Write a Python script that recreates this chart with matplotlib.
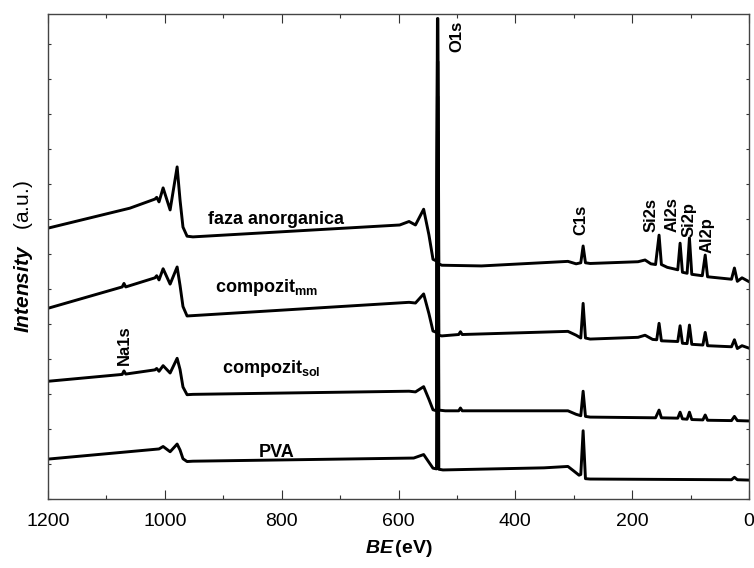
import matplotlib.pyplot as plt
from matplotlib.ticker import MultipleLocator, NullFormatter

plt.rcParams['font.family'] = ['Liberation Sans', 'DejaVu Sans']
plt.rcParams['mathtext.fontset'] = 'custom'
plt.rcParams['mathtext.rm'] = 'Liberation Sans'
plt.rcParams['mathtext.bf'] = 'Liberation Sans:bold'
plt.rcParams['mathtext.bfit'] = 'Liberation Sans:italic:bold'
plt.rcParams['mathtext.it'] = 'Liberation Sans:italic'

# spectra: binding energy (eV) and stacked intensity (a.u.)
be_pva = [1200, 1010, 1003, 991, 979, 974, 969, 962, 952, 574, 557, 548, 541, 535, 533.4, 532.6, 531, 524, 351, 310, 300, 291, 288,
          284, 280, 272, 30, 25, 20, 0]
int_pva = [1.14, 1.43, 1.50, 1.35, 1.57, 1.40, 1.15, 1.07, 1.08, 1.17, 1.27, 1.05, 0.88, 0.86, 10.5, 10.5, 0.85, 0.83, 0.89, 0.93, 0.80, 0.68, 0.70,
           1.95, 0.58, 0.57, 0.55, 0.62, 0.55, 0.54]

be_sol = [1196, 1073, 1070, 1067, 1017, 1014, 1010, 1003, 991, 979, 974, 969, 962, 952, 582, 571, 557, 548, 541, 535, 533.4, 532.6, 531,
          520, 497, 494, 491, 310, 296, 288, 284, 280, 272, 160, 154, 150, 122, 118, 114, 106, 102, 98, 79, 75, 71, 30, 25, 20, 0]
int_sol = [3.37, 3.56, 3.66, 3.57, 3.69, 3.73, 3.65, 3.81, 3.60, 4.02, 3.70, 3.20, 2.98, 2.99, 3.08, 3.06, 3.21, 2.85, 2.55, 2.52, 11.5, 11.5, 2.54,
           2.52, 2.52, 2.60, 2.52, 2.52, 2.42, 2.38, 3.08, 2.36, 2.34, 2.32, 2.54, 2.32, 2.31, 2.48, 2.29, 2.28, 2.48, 2.27, 2.26, 2.40, 2.25,
           2.24, 2.36, 2.24, 2.23]

be_mm = [1200, 1073, 1070, 1067, 1017, 1014, 1010, 1003, 991, 979, 974, 969, 962, 952, 582, 571, 557, 548, 541, 535, 533.4, 532.6, 531,
         526, 497, 494, 491, 310, 296, 288, 284, 280, 272, 190, 178, 165, 158, 154, 150, 122, 118, 114, 106, 102, 98, 79, 75, 71,
         30, 25, 20, 12, 0]
int_mm = [5.45, 6.06, 6.16, 6.06, 6.32, 6.38, 6.26, 6.58, 6.14, 6.63, 6.10, 5.50, 5.23, 5.24, 5.62, 5.60, 5.86, 5.30, 4.80, 4.76, 12.5, 12.5, 4.68,
          4.66, 4.70, 4.78, 4.70, 4.79, 4.68, 4.60, 5.59, 4.60, 4.57, 4.62, 4.68, 4.56, 4.55, 5.02, 4.52, 4.50, 4.95, 4.45, 4.44, 4.97,
          4.42, 4.40, 4.76, 4.38, 4.35, 4.55, 4.30, 4.38, 4.31]

be_faza = [1200, 1060, 1017, 1014, 1010, 1003, 991, 979, 974, 969, 962, 952, 598, 582, 571, 557, 548, 541, 535, 533.4, 532.6, 531, 526,
           458, 310, 296, 288, 284, 280, 272, 190, 178, 168, 160, 154, 150, 140, 122, 118, 114, 106, 102, 98, 80, 75, 71,
           30, 25, 20, 12, 0]
int_faza = [7.74, 8.31, 8.57, 8.62, 8.49, 8.89, 8.26, 9.49, 8.54, 7.77, 7.51, 7.49, 7.83, 7.93, 7.83, 8.28, 7.55, 6.85, 6.80, 13.73, 13.73, 6.72, 6.68,
            6.66, 6.79, 6.72, 6.75, 7.23, 6.75, 6.73, 6.78, 6.83, 6.72, 6.70, 7.54, 6.70, 6.62, 6.55, 7.31, 6.48, 6.45, 7.46, 6.42,
            6.38, 6.97, 6.35, 6.28, 6.60, 6.22, 6.32, 6.21]

series = [(be_pva, int_pva), (be_sol, int_sol), (be_mm, int_mm), (be_faza, int_faza)]

fig = plt.figure(figsize=(7.54, 5.68), dpi=100)
ax = fig.add_axes([0.0637, 0.1215, 0.9297, 0.8539])

for be, inten in series:
    ax.plot(be, inten, color='black', lw=2.1, solid_joinstyle='round')

ax.set_xlim(1200, 0)
ax.set_ylim(0, 13.86)
ax.xaxis.set_major_locator(MultipleLocator(200))
ax.xaxis.set_minor_locator(MultipleLocator(100))
ax.yaxis.set_major_locator(MultipleLocator(1))
ax.yaxis.set_major_formatter(NullFormatter())
ax.tick_params(axis='both', which='both', direction='in', top=True, right=True, colors='#333333')
ax.tick_params(axis='x', which='major', length=6.5, width=0.8, labelsize=14, labelcolor='black', pad=10)
ax.tick_params(axis='x', which='minor', length=3, width=0.8)
ax.tick_params(axis='y', which='major', length=2.5, width=0.8)
for s in ax.spines.values():
    s.set_color('#444444')
    s.set_linewidth(1.0)

ax.set_xlabel(r'$\mathbfit{BE}\,\mathbf{(eV)}$', fontsize=14, labelpad=6)
ax.set_ylabel(r'$\mathbfit{Intensity}$   (a.u.)', fontsize=15, labelpad=6)

# sample labels
ax.text(926, 7.86, 'faza anorganica', fontsize=13, fontweight='bold', ha='left', va='baseline')
ax.text(914, 5.91, r'$\mathbf{compozit_{mm}}$', fontsize=13, ha='left', va='baseline')
ax.text(902, 3.6, r'$\mathbf{compozit_{sol}}$', fontsize=13, ha='left', va='baseline')
ax.text(840, 1.2, 'PVA', fontsize=13, fontweight='bold', ha='left', va='baseline')

# peak labels
peak_kw = dict(fontsize=12, fontweight='bold', rotation=90, ha='center', va='bottom')
ax.text(500, 12.77, 'O1s', **peak_kw)
ax.text(287, 7.54, 'C1s', **peak_kw)
ax.text(167, 7.63, 'Si2s', **peak_kw)
ax.text(131, 7.63, 'Al2s', **peak_kw)
ax.text(102, 7.49, 'Si2p', **peak_kw)
ax.text(71, 7.03, 'Al2p', **peak_kw)
ax.text(1070, 3.83, 'Na1s', **peak_kw)

fig.savefig('out.png', dpi=100)
